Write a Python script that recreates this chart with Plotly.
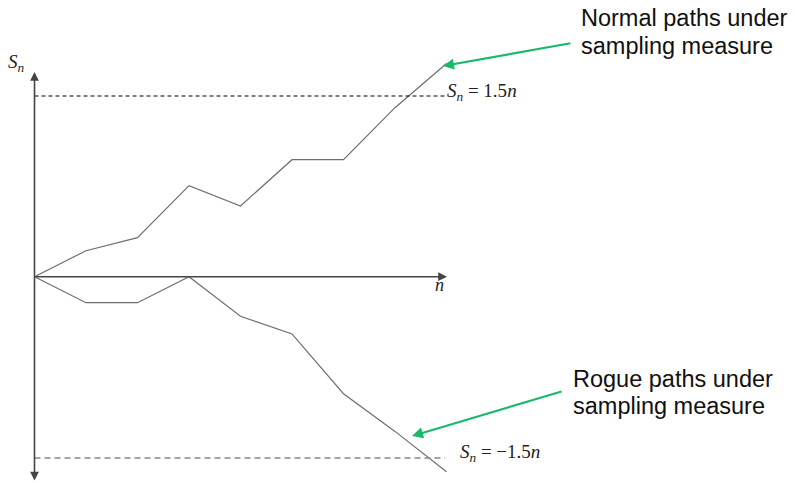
import plotly.graph_objects as go

# Data: step index n and path values S_n (arbitrary units)
n_steps = [0, 1, 2, 3, 4, 5, 6, 7, 8]
normal_path = [0, 1.0, 1.5, 3.5, 2.72, 4.5, 4.5, 6.5, 8.2]
rogue_path = [0, -1.0, -1.0, 0, -1.52, -2.2, -4.5, -5.95, -7.5]
upper_level = 6.95
lower_level = -6.97

# pixel <-> data helpers (layout only)
X0, XS = 34.5, 51.5
Y0, YS = 276.7, 26.0
def dx(px):
    return (px - X0) / XS
def dy(py):
    return (Y0 - py) / YS

W, H = 795, 483
fig = go.Figure()

fig.add_trace(go.Scatter(x=n_steps, y=normal_path, mode="lines",
                         line=dict(color="#6e6e6e", width=1.2), hoverinfo="skip"))
fig.add_trace(go.Scatter(x=n_steps, y=rogue_path, mode="lines",
                         line=dict(color="#6e6e6e", width=1.2), hoverinfo="skip"))

# dashed levels
fig.add_trace(go.Scatter(x=[0, dx(445)], y=[upper_level, upper_level], mode="lines",
                         line=dict(color="#000000", width=1.2, dash="4px,3px"), hoverinfo="skip"))
fig.add_trace(go.Scatter(x=[0, dx(445)], y=[lower_level, lower_level], mode="lines",
                         line=dict(color="#888888", width=1.5, dash="6px,4px"), hoverinfo="skip"))

ann = []
# vertical axis with arrows at both ends
ann.append(dict(x=0, y=dy(72), ax=0, ay=dy(482), xref="x", yref="y", axref="x", ayref="y",
                showarrow=True, arrowhead=2, startarrowhead=2, arrowside="end+start",
                arrowwidth=1.6, arrowsize=1.1, startarrowsize=1.1, arrowcolor="#444444", text=""))
# horizontal axis
ann.append(dict(x=dx(447), y=0, ax=0, ay=0, xref="x", yref="y", axref="x", ayref="y",
                showarrow=True, arrowhead=2, arrowwidth=1.6, arrowsize=1.1,
                arrowcolor="#444444", text=""))
# green pointer arrows
ann.append(dict(x=dx(443), y=dy(66), ax=dx(572), ay=dy(43), xref="x", yref="y", axref="x", ayref="y",
                showarrow=True, arrowhead=2, arrowwidth=2.2, arrowsize=1.0,
                arrowcolor="#19b96a", text=""))
ann.append(dict(x=dx(412), y=dy(436), ax=dx(563), ay=dy(391), xref="x", yref="y", axref="x", ayref="y",
                showarrow=True, arrowhead=2, arrowwidth=2.2, arrowsize=1.0,
                arrowcolor="#19b96a", text=""))

serif = "Liberation Serif, DejaVu Serif, serif"
sans = "Liberation Sans, Arial, sans-serif"
def ptext(px, py, text, size, font, color="#222222"):
    ann.append(dict(x=px / W, y=1 - py / H, xref="paper", yref="paper", text=text,
                    showarrow=False, xanchor="left", yanchor="middle", align="left",
                    font=dict(family=font, size=size, color=color)))

ptext(6, 63, "<i>S</i><sub><i>n</i></sub>", 19, serif)
ptext(433, 285, "<i>n</i>", 18, serif)
ptext(445, 92, "<i>S</i><sub><i>n</i></sub> = 1.5<i>n</i>", 19, serif)
ptext(458, 453, "<i>S</i><sub><i>n</i></sub> = −1.5<i>n</i>", 19, serif)

ptext(579, 18, "Normal paths under", 23.5, sans, "#111111")
ptext(579, 46, "sampling measure", 23.5, sans, "#111111")
ptext(571, 379, "Rogue paths under", 23.5, sans, "#111111")
ptext(571, 406, "sampling measure", 23.5, sans, "#111111")

fig.update_layout(
    width=W, height=H, autosize=False,
    margin=dict(l=0, r=0, t=0, b=0),
    paper_bgcolor="white", plot_bgcolor="white",
    showlegend=False,
    hovermode=False,
    annotations=ann,
    xaxis=dict(range=[dx(0), dx(W)], visible=False, fixedrange=True),
    yaxis=dict(range=[dy(H), dy(0)], visible=False, fixedrange=True),
)

fig.write_html("out.html", config={"displayModeBar": False, "staticPlot": True},
               post_script="document.body.style.margin='0';document.body.style.padding='0';document.body.style.overflow='hidden';")
